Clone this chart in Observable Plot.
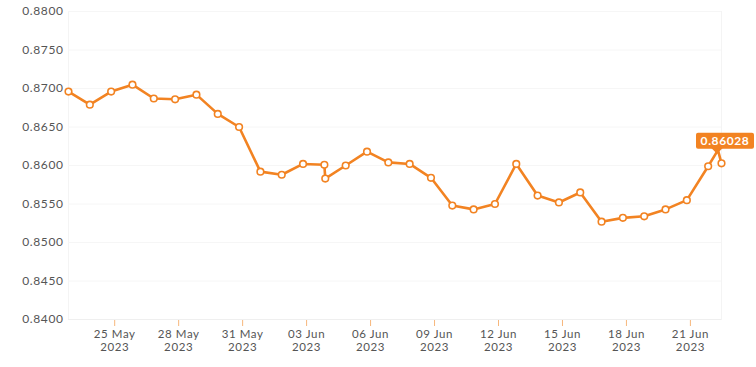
<!DOCTYPE html>
<html>
<head>
<meta charset="utf-8">
<script src="https://cdn.jsdelivr.net/npm/d3@7"></script>
<script src="https://cdn.jsdelivr.net/npm/@observablehq/plot@0.6"></script>
<style>
  html, body { margin: 0; padding: 0; background: #fff; }
  #chart { width: 756px; height: 367px; }
</style>
</head>
<body>
<div id="chart"></div>
<script>
// Timestamps of each observation (UTC)
const times = [
  "2023-05-22T20:00Z", "2023-05-23T20:00Z", "2023-05-24T20:00Z", "2023-05-25T20:00Z",
  "2023-05-26T20:00Z", "2023-05-27T20:00Z", "2023-05-28T20:00Z", "2023-05-29T20:00Z",
  "2023-05-30T20:00Z", "2023-05-31T20:00Z", "2023-06-01T20:00Z", "2023-06-02T20:00Z",
  "2023-06-03T20:00Z", "2023-06-03T21:00Z", "2023-06-04T20:00Z", "2023-06-05T20:00Z",
  "2023-06-06T20:00Z", "2023-06-07T20:00Z", "2023-06-08T20:00Z", "2023-06-09T20:00Z",
  "2023-06-10T20:00Z", "2023-06-11T20:00Z", "2023-06-12T20:00Z", "2023-06-13T20:00Z",
  "2023-06-14T20:00Z", "2023-06-15T20:00Z", "2023-06-16T20:00Z", "2023-06-17T20:00Z",
  "2023-06-18T20:00Z", "2023-06-19T20:00Z", "2023-06-20T20:00Z", "2023-06-21T20:00Z",
  "2023-06-22T07:00Z", "2023-06-22T11:00Z"
];
// Exchange rate values
const values = [
  0.8696, 0.8679, 0.8696, 0.8705,
  0.8687, 0.8686, 0.8692, 0.8667,
  0.8650, 0.8592, 0.8588, 0.8602,
  0.8601, 0.8583, 0.8600, 0.8618,
  0.8604, 0.8602, 0.8584, 0.8548,
  0.8543, 0.8550, 0.8602, 0.8561,
  0.8552, 0.8565, 0.8527, 0.8532,
  0.8534, 0.8543, 0.8555, 0.8599,
  0.8620, 0.86028
];
// whether a marker is drawn at each observation
const marked = [
  1,1,1,1, 1,1,1,1, 1,1,1,1, 1,1,1,1, 1,1,1,1, 1,1,1,1, 1,1,1,1, 1,1,1,1, 0,1
];
const yTicks = [0.84, 0.845, 0.85, 0.855, 0.86, 0.865, 0.87, 0.875, 0.88];
const xTicks = ["2023-05-25", "2023-05-28", "2023-05-31", "2023-06-03", "2023-06-06",
  "2023-06-09", "2023-06-12", "2023-06-15", "2023-06-18", "2023-06-21"];
const lastLabel = "0.86028";

const data = times.map((t, i) => ({t: new Date(t), v: values[i], m: marked[i]}));
const orange = "#f28322";

const plot = Plot.plot({
  width: 756,
  height: 367,
  marginLeft: 68,
  marginRight: 35,
  marginTop: 11,
  marginBottom: 48,
  style: {fontFamily: "Lato, sans-serif", fontSize: "12px", color: "#555", background: "#fff", letterSpacing: "0.6px"},
  x: {type: "utc", domain: [data[0].t, data[data.length - 1].t]},
  y: {domain: [0.84, 0.88]},
  marks: [
    Plot.frame({stroke: "#f4f4f4"}),
    Plot.gridY(yTicks, {stroke: "#f6f6f6", strokeOpacity: 1}),
    Plot.axisY(yTicks, {tickSize: 0, tickPadding: 5, tickFormat: d3.format(".4f"), label: null}),
    Plot.axisX(xTicks.map(d => new Date(d)), {
      tickSize: 7, tickPadding: 3, stroke: "#f7b77c", fill: "#555", label: null,
      fontSize: 11.5, lineHeight: 1.08,
      tickFormat: d => d3.utcFormat("%d %b")(d) + "\n" + d3.utcFormat("%Y")(d)
    }),
    Plot.ruleY([0.84], {stroke: "#efefef"}),
    Plot.line(data, {x: "t", y: "v", stroke: orange, strokeWidth: 2.6, strokeLinejoin: "round"}),
    Plot.dot(data.filter(d => d.m), {x: "t", y: "v", r: 3.3, fill: "white", stroke: orange, strokeWidth: 1.6})
  ]
});

// value label box anchored to the last observation
const xs = plot.scale("x"), ys = plot.scale("y");
const last = data[data.length - 1];
const px = xs.apply(last.t), py = ys.apply(last.v);
const bw = 58, bh = 16;
const bx = px - 25, by = py - 30;
const svg = d3.select(plot);
const g = svg.append("g");
g.append("path")
  .attr("d", `M${px - 10},${by + bh - 1} L${px - 4},${by + bh + 5} L${px + 2},${by + bh - 1} Z`)
  .attr("fill", orange);
g.append("rect").attr("x", bx).attr("y", by).attr("width", bw).attr("height", bh)
  .attr("rx", 2).attr("fill", orange);
g.append("text").attr("x", bx + bw / 2).attr("y", by + bh / 2).attr("dy", "0.36em")
  .attr("text-anchor", "middle").attr("fill", "white").attr("font-weight", "bold")
  .attr("font-size", "12px").text(lastLabel);

document.getElementById("chart").appendChild(plot);
</script>
</body>
</html>
